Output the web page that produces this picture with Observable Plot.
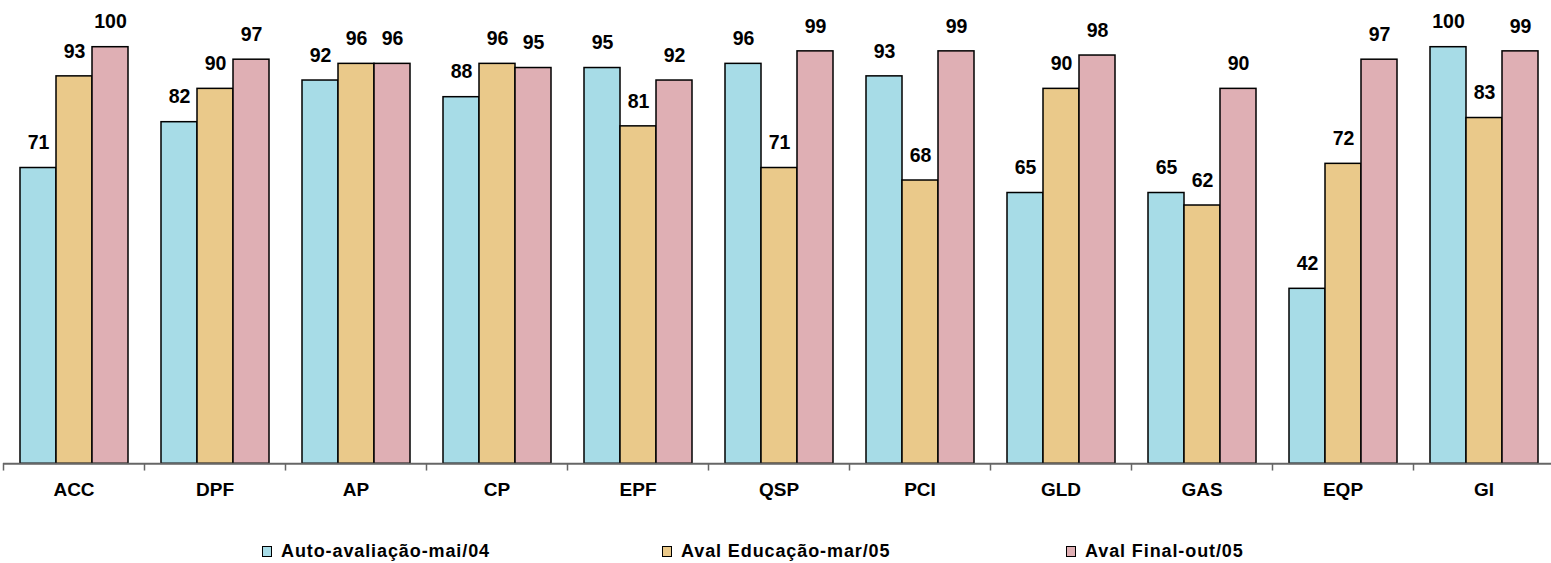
<!DOCTYPE html>
<html><head><meta charset="utf-8">
<script src="https://cdn.jsdelivr.net/npm/d3@7"></script>
<script src="https://cdn.jsdelivr.net/npm/@observablehq/plot@0.6"></script>
<style>
body{margin:0;background:#fff;overflow:hidden;font-family:"Liberation Sans",Arial,sans-serif}
#chart svg{display:block;overflow:visible}
#legend{position:relative;height:53px;width:1551px}
.item{position:absolute;top:31px;display:flex;align-items:center;font-weight:bold;font-size:18px;letter-spacing:0.9px;color:#000;white-space:nowrap}
.sw{width:8px;height:9px;border:1.5px solid #000;margin-right:9px}
</style></head><body>
<div id="chart"></div>
<div id="legend"></div>
<script>
const categories = ["ACC","DPF","AP","CP","EPF","QSP","PCI","GLD","GAS","EQP","GI"];
const seriesNames = ["Auto-avaliação-mai/04","Aval Educação-mar/05","Aval Final-out/05"];
const autoAvaliacao = [71,82,92,88,95,96,93,65,65,42,100];
const avalEducacao = [93,90,96,96,81,71,68,90,62,72,83];
const avalFinal = [100,97,96,95,92,99,99,98,90,97,99];
const colors = ["#a7dce7","#eac98a","#dfafb4"];

const seriesValues = [autoAvaliacao, avalEducacao, avalFinal];
const data = [];
categories.forEach((c, i) => seriesNames.forEach((s, j) => data.push({cat: c, series: s, value: seriesValues[j][i]})));

const plot = Plot.plot({
  width: 1551,
  height: 510,
  marginTop: 46.7,
  marginBottom: 46.7,
  marginLeft: 3,
  marginRight: 0,
  style: {fontFamily: '"Liberation Sans", Arial, sans-serif', background: "#fff"},
  fx: {domain: categories, range: [3, 1554], padding: 0, label: null, tickSize: 0, tickPadding: 19},
  x: {domain: seriesNames, axis: null, paddingInner: 0, paddingOuter: 0.42},
  y: {domain: [0, 100], axis: null},
  color: {domain: seriesNames, range: colors},
  facet: {data, x: "cat"},
  marks: [
    Plot.barY(data, {x: "series", y: "value", fill: "series", stroke: "#000", strokeWidth: 1.5}),
    Plot.text(data, {x: "series", y: "value", text: d => String(d.value), dy: -25, fontWeight: "bold", fontSize: 19.5, fill: "#000"}),
    Plot.ruleY([0], {stroke: "#666", strokeWidth: 2}),
    Plot.frame({anchor: "left", insetTop: 416.6, insetBottom: -6, stroke: "#666", strokeWidth: 1.5})
  ]
});
plot.querySelectorAll('[aria-label="fx-axis tick label"] text, [aria-label="fx-axis tick label"]').forEach(e => {e.setAttribute("font-size", "19"); e.setAttribute("font-weight", "bold"); e.setAttribute("fill", "#000");});
document.getElementById("chart").appendChild(plot);

const legend = document.getElementById("legend");
const lx = [262, 662, 1066];
seriesNames.forEach((s, i) => {
  const it = document.createElement("div");
  it.className = "item";
  it.style.left = lx[i] + "px";
  const sw = document.createElement("span");
  sw.className = "sw";
  sw.style.background = colors[i];
  const t = document.createElement("span");
  t.textContent = s;
  it.appendChild(sw); it.appendChild(t);
  legend.appendChild(it);
});
</script>
</body></html>
